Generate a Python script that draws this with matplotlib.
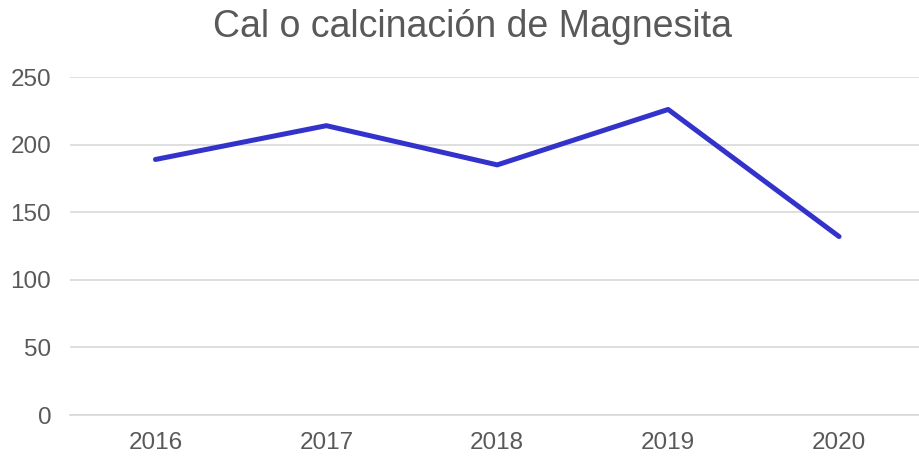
import matplotlib.pyplot as plt

years = ["2016", "2017", "2018", "2019", "2020"]
values = [189, 214, 185, 226, 132]
yticks = [0, 50, 100, 150, 200, 250]

plt.rcParams['font.family'] = ['Liberation Sans', 'DejaVu Sans']

fig = plt.figure(figsize=(9.2, 4.57), dpi=100)
ax = fig.add_axes([70 / 920, 1 - 415 / 457, 850 / 920, 338 / 457])

x = list(range(len(years)))
ax.plot(x, values, color="#3333CC", linewidth=3.6, solid_capstyle="round",
        solid_joinstyle="round", zorder=3)

ax.set_xlim(-0.5, (920 - 155) / 171)
ax.set_ylim(0, 250)
ax.set_xticks(x)
ax.set_xticklabels(years)
ax.set_yticks(yticks)
ax.grid(axis="y", color="#d9d9d9", linewidth=1.2)
ax.set_axisbelow(True)
for s in ["top", "right", "left"]:
    ax.spines[s].set_visible(False)
ax.spines["bottom"].set_color("#d9d9d9")
ax.spines["bottom"].set_linewidth(1.2)
ax.tick_params(length=0, labelsize=17.5, labelcolor="#595959")
ax.tick_params(axis="x", pad=12)
ax.tick_params(axis="y", pad=13.5)

fig.text(473 / 920, 1 - 27 / 457, "Cal o calcinación de Magnesita", ha="center",
         va="center", fontsize=27, color="#595959")

fig.savefig("out.png", dpi=100)
